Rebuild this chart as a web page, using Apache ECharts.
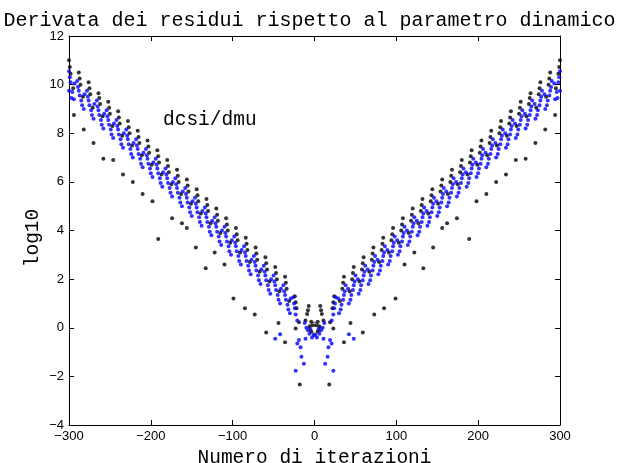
<!DOCTYPE html>
<html><head><meta charset="utf-8">
<script src="https://cdn.jsdelivr.net/npm/echarts@6/dist/echarts.min.js"></script>
<style>html,body{margin:0;padding:0;background:#fff}#c{width:619px;height:463px}</style>
</head><body><div id="c"></div>
<script>
const titleText = "Derivata dei residui rispetto al parametro dinamico";
const xName = "Numero di iterazioni";
const yName = "log10";
const annotation = "dcsi/dmu";
const xTicks = [-300, -200, -100, 0, 100, 200, 300];
const yTicks = [-4, -2, 0, 2, 4, 6, 8, 10, 12];

const blackLeft = [
[-300,11.0],[-299,10.72],[-298,10.45],[-295,9.85],[-294,8.75],
[-288,10.5],[-287,10.25],[-286,10.0],[-283,9.5],[-282,8.15],
[-276,10.1],[-275,9.85],[-274,9.6],[-271,9.05],[-270,7.6],
[-264,9.65],[-263,9.45],[-262,9.2],[-259,8.7],[-258,6.95],
[-252,9.3],[-251,9.05],[-250,8.8],[-247,8.3],[-246,6.9],
[-240,8.9],[-239,8.65],[-238,8.4],[-235,7.9],[-234,6.3],
[-228,8.5],[-227,8.25],[-226,8.0],[-223,7.5],[-222,6.0],
[-216,8.1],[-215,7.85],[-214,7.6],[-211,7.1],[-210,5.5],
[-204,7.7],[-203,7.45],[-202,7.2],[-199,6.7],[-198,5.2],
[-192,7.3],[-191,7.05],[-190,6.8],[-187,6.3],[-191,3.65],
[-180,6.9],[-179,6.65],[-178,6.4],[-175,5.9],[-174,4.5],
[-168,6.5],[-167,6.25],[-166,6.0],[-163,5.5],[-162,4.3],
[-156,6.1],[-155,5.85],[-154,5.6],[-151,5.1],[-156,4.1],
[-144,5.7],[-143,5.45],[-142,5.2],[-139,4.7],[-145,3.3],
[-132,5.3],[-131,5.05],[-130,4.8],[-127,4.3],[-133,2.45],
[-120,4.9],[-119,4.65],[-118,4.4],[-115,3.9],[-122,3.1],
[-108,4.5],[-107,4.25],[-106,4.0],[-103,3.5],[-110,2.6],
[-96,4.1],[-95,3.85],[-94,3.6],[-91,3.1],[-99,1.2],
[-84,3.7],[-83,3.45],[-82,3.2],[-79,2.7],[-85,0.8],
[-72,3.3],[-71,3.05],[-70,2.8],[-67,2.3],[-73,0.55],
[-60,2.9],[-59,2.65],[-58,2.4],[-55,1.9],[-59,-0.2],
[-48,2.5],[-47,2.25],[-46,2.0],[-43,1.5],[-44,0.2],
[-36,2.1],[-35,1.85],[-34,1.6],[-31,1.1],[-36,-0.6],
[-24,1.3],[-23,1.05],[-22,0.8],[-19,0.23],[-23,-0.03],[-18,-2.33],
[-7,0.89],[-8,0.72],[-9,0.57],[-11,0.3],[-6,0.05],[-4,-0.15]
];
const blueLeft = [
[-300,10.55],[-300,9.75],[-299,10.3],[-298,10.1],[-297,9.45],[-296,9.7],[-294,9.4],[-293,10.05],
[-290,10.15],[-289,9.9],[-288,9.75],[-287,9.55],[-285,9.35],[-284,9.15],[-282,9.0],[-281,9.6],
[-278,9.75],[-277,9.5],[-276,9.35],[-275,9.15],[-273,8.95],[-272,8.75],[-270,8.6],[-269,9.2],
[-266,9.35],[-265,9.1],[-264,8.95],[-263,8.75],[-261,8.55],[-260,8.35],[-258,8.2],[-257,8.8],
[-254,8.95],[-253,8.7],[-252,8.55],[-251,8.35],[-249,8.15],[-248,7.95],[-246,7.8],[-245,8.4],
[-242,8.55],[-241,8.3],[-240,8.15],[-239,7.95],[-237,7.75],[-236,7.55],[-234,7.4],[-233,8.0],
[-230,8.15],[-229,7.9],[-228,7.75],[-227,7.55],[-225,7.35],[-224,7.15],[-222,7.0],[-221,7.6],
[-218,7.75],[-217,7.5],[-216,7.35],[-215,7.15],[-213,6.95],[-212,6.75],[-210,6.6],[-209,7.2],
[-206,7.35],[-205,7.1],[-204,6.95],[-203,6.75],[-201,6.55],[-200,6.35],[-198,6.2],[-197,6.8],
[-194,6.95],[-193,6.7],[-192,6.55],[-191,6.35],[-189,6.15],[-188,5.95],[-186,5.8],[-185,6.4],
[-182,6.55],[-181,6.3],[-180,6.15],[-179,5.95],[-177,5.75],[-176,5.55],[-174,5.4],[-173,6.0],
[-170,6.15],[-169,5.9],[-168,5.75],[-167,5.55],[-165,5.35],[-164,5.15],[-162,5.0],[-161,5.6],
[-158,5.75],[-157,5.5],[-156,5.35],[-155,5.15],[-153,4.95],[-152,4.75],[-150,4.6],[-149,5.2],
[-146,5.35],[-145,5.1],[-144,4.95],[-143,4.75],[-141,4.55],[-140,4.35],[-138,4.2],[-137,4.8],
[-134,4.95],[-133,4.7],[-132,4.55],[-131,4.35],[-129,4.15],[-128,3.95],[-126,3.8],[-125,4.4],
[-122,4.55],[-121,4.3],[-120,4.15],[-119,3.95],[-117,3.75],[-116,3.55],[-114,3.4],[-113,4.0],
[-110,4.15],[-109,3.9],[-108,3.75],[-107,3.55],[-105,3.35],[-104,3.15],[-102,3.0],[-101,3.6],
[-98,3.75],[-97,3.5],[-96,3.35],[-95,3.15],[-93,2.95],[-92,2.75],[-90,2.6],[-89,3.2],
[-86,3.35],[-85,3.1],[-84,2.95],[-83,2.75],[-81,2.55],[-80,2.35],[-78,2.2],[-77,2.8],
[-74,2.95],[-73,2.7],[-72,2.55],[-71,2.35],[-69,2.15],[-68,1.95],[-66,1.8],[-65,2.4],
[-62,2.55],[-61,2.3],[-60,2.15],[-59,1.95],[-57,1.75],[-56,1.55],[-54,1.4],[-53,2.0],
[-50,2.15],[-49,1.9],[-48,1.75],[-47,1.55],[-45,1.35],[-44,1.15],[-42,1.0],[-41,1.6],[-48,-0.45],[-42,-0.27],
[-38,1.75],[-37,1.5],[-36,1.35],[-35,1.15],[-33,0.95],[-32,0.75],[-30,0.6],[-29,1.2],
[-26,1.25],[-25,1.0],[-24,0.8],[-23,0.55],[-21,0.3],[-19,-0.5],[-21,-0.65],[-17,-0.8],[-16,-1.19],[-13,-1.48],[-23,-1.77],
[-12,0.2],[-11,-0.45],[-10,0.0],[-8,-0.1],[-6,-0.25],[-3,-0.4],[-5,-0.05]
];
const blackCenter = [[-4,0.25],[4,0.25],[-2,0.1],[2,0.1]];
const blueCenter = [[-1,-0.3],[1,-0.3]];
const originMark = [[0,0]];
const blackRight = [
[7,0.89],[8,0.72],[9,0.57],[11,0.3],[6,0.05],[4,-0.15],
[24,1.3],[23,1.05],[22,0.8],[19,0.23],[23,-0.03],[18,-2.33],
[36,2.1],[35,1.85],[34,1.6],[31,1.1],[36,-0.6],
[48,2.5],[47,2.25],[46,2.0],[43,1.5],[44,0.2],
[60,2.9],[59,2.65],[58,2.4],[55,1.9],[59,-0.2],
[72,3.3],[71,3.05],[70,2.8],[67,2.3],[73,0.55],
[84,3.7],[83,3.45],[82,3.2],[79,2.7],[85,0.8],
[96,4.1],[95,3.85],[94,3.6],[91,3.1],[99,1.2],
[108,4.5],[107,4.25],[106,4.0],[103,3.5],[110,2.6],
[120,4.9],[119,4.65],[118,4.4],[115,3.9],[122,3.1],
[132,5.3],[131,5.05],[130,4.8],[127,4.3],[133,2.45],
[144,5.7],[143,5.45],[142,5.2],[139,4.7],[145,3.3],
[156,6.1],[155,5.85],[154,5.6],[151,5.1],[156,4.1],
[168,6.5],[167,6.25],[166,6.0],[163,5.5],[162,4.3],
[180,6.9],[179,6.65],[178,6.4],[175,5.9],[174,4.5],
[192,7.3],[191,7.05],[190,6.8],[187,6.3],[189,3.65],
[204,7.7],[203,7.45],[202,7.2],[199,6.7],[198,5.2],
[216,8.1],[215,7.85],[214,7.6],[211,7.1],[210,5.5],
[228,8.5],[227,8.25],[226,8.0],[223,7.5],[222,6.0],
[240,8.9],[239,8.65],[238,8.4],[235,7.9],[234,6.3],
[252,9.3],[251,9.05],[250,8.8],[247,8.3],[246,6.9],
[264,9.65],[263,9.45],[262,9.2],[259,8.7],[258,6.95],
[276,10.1],[275,9.85],[274,9.6],[271,9.05],[270,7.6],
[288,10.5],[287,10.25],[286,10.0],[283,9.5],[282,8.15],
[300,11.0],[299,10.72],[298,10.45],[295,9.85],[294,8.75]
];
const blueRight = [
[12,0.2],[11,-0.45],[10,0.0],[8,-0.1],[6,-0.25],[3,-0.4],[5,-0.05],
[26,1.25],[25,1.0],[24,0.8],[23,0.55],[21,0.3],[19,-0.5],[21,-0.65],[17,-0.8],[16,-1.19],[13,-1.48],[23,-1.77],
[38,1.75],[37,1.5],[36,1.35],[35,1.15],[33,0.95],[32,0.75],[30,0.6],[29,1.2],
[50,2.15],[49,1.9],[48,1.75],[47,1.55],[45,1.35],[44,1.15],[42,1.0],[41,1.6],[48,-0.45],[42,-0.27],
[62,2.55],[61,2.3],[60,2.15],[59,1.95],[57,1.75],[56,1.55],[54,1.4],[53,2.0],
[74,2.95],[73,2.7],[72,2.55],[71,2.35],[69,2.15],[68,1.95],[66,1.8],[65,2.4],
[86,3.35],[85,3.1],[84,2.95],[83,2.75],[81,2.55],[80,2.35],[78,2.2],[77,2.8],
[98,3.75],[97,3.5],[96,3.35],[95,3.15],[93,2.95],[92,2.75],[90,2.6],[89,3.2],
[110,4.15],[109,3.9],[108,3.75],[107,3.55],[105,3.35],[104,3.15],[102,3.0],[101,3.6],
[122,4.55],[121,4.3],[120,4.15],[119,3.95],[117,3.75],[116,3.55],[114,3.4],[113,4.0],
[134,4.95],[133,4.7],[132,4.55],[131,4.35],[129,4.15],[128,3.95],[126,3.8],[125,4.4],
[146,5.35],[145,5.1],[144,4.95],[143,4.75],[141,4.55],[140,4.35],[138,4.2],[137,4.8],
[158,5.75],[157,5.5],[156,5.35],[155,5.15],[153,4.95],[152,4.75],[150,4.6],[149,5.2],
[170,6.15],[169,5.9],[168,5.75],[167,5.55],[165,5.35],[164,5.15],[162,5.0],[161,5.6],
[182,6.55],[181,6.3],[180,6.15],[179,5.95],[177,5.75],[176,5.55],[174,5.4],[173,6.0],
[194,6.95],[193,6.7],[192,6.55],[191,6.35],[189,6.15],[188,5.95],[186,5.8],[185,6.4],
[206,7.35],[205,7.1],[204,6.95],[203,6.75],[201,6.55],[200,6.35],[198,6.2],[197,6.8],
[218,7.75],[217,7.5],[216,7.35],[215,7.15],[213,6.95],[212,6.75],[210,6.6],[209,7.2],
[230,8.15],[229,7.9],[228,7.75],[227,7.55],[225,7.35],[224,7.15],[222,7.0],[221,7.6],
[242,8.55],[241,8.3],[240,8.15],[239,7.95],[237,7.75],[236,7.55],[234,7.4],[233,8.0],
[254,8.95],[253,8.7],[252,8.55],[251,8.35],[249,8.15],[248,7.95],[246,7.8],[245,8.4],
[266,9.35],[265,9.1],[264,8.95],[263,8.75],[261,8.55],[260,8.35],[258,8.2],[257,8.8],
[278,9.75],[277,9.5],[276,9.35],[275,9.15],[273,8.95],[272,8.75],[270,8.6],[269,9.2],
[290,10.15],[289,9.9],[288,9.75],[287,9.55],[285,9.35],[284,9.15],[282,9.0],[281,9.6],
[300,10.55],[300,9.75],[299,10.3],[298,10.1],[297,9.45],[296,9.7],[294,9.4],[293,10.05]
];

const mono = "'Liberation Mono','DejaVu Sans Mono',monospace";
const sans = "'Liberation Sans',Arial,sans-serif";
const fmt = v => String(v).replace('-', '\u2212');

const chart = echarts.init(document.getElementById('c'), null, {renderer: 'canvas'});
const axisCommon = {
  type: 'value',
  axisLine: {show: true, onZero: false, lineStyle: {color: '#000', width: 1}},
  axisTick: {show: true, inside: true, length: 5, lineStyle: {color: '#000'}},
  splitLine: {show: false}
};
chart.setOption({
  animation: false,
  backgroundColor: '#fff',
  title: {text: titleText, left: 'center', top: 6,
    textStyle: {fontFamily: mono, fontSize: 20, fontWeight: 'normal', color: '#000'}},
  grid: {left: 69, right: 59, top: 36, bottom: 38, containLabel: false, outerBoundsMode: 'none'},
  xAxis: [
    Object.assign({}, axisCommon, {min: xTicks[0], max: xTicks[xTicks.length-1], interval: 100, position: 'bottom',
      name: xName, nameLocation: 'middle', nameGap: 17,
      nameTextStyle: {fontFamily: mono, fontSize: 19.5, color: '#000'},
      axisLabel: {color: '#000', fontFamily: sans, fontSize: 13, margin: 5, formatter: fmt, showMinLabel: true, showMaxLabel: true}}),
    Object.assign({}, axisCommon, {min: xTicks[0], max: xTicks[xTicks.length-1], interval: 100, position: 'top', axisLabel: {show: false}})
  ],
  yAxis: [
    Object.assign({}, axisCommon, {min: yTicks[0], max: yTicks[yTicks.length-1], interval: 2, position: 'left',
      axisLabel: {color: '#000', fontFamily: sans, fontSize: 13, margin: 5, formatter: fmt, showMinLabel: true, showMaxLabel: true}}),
    Object.assign({}, axisCommon, {min: yTicks[0], max: yTicks[yTicks.length-1], interval: 2, position: 'right', axisLabel: {show: false}})
  ],
  graphic: [
    {type: 'text', left: 163, top: 110,
     style: {text: annotation, font: "19.5px 'Liberation Mono', monospace", fill: '#000'}},
    {type: 'text', x: 33, y: 238, rotation: Math.PI / 2,
     style: {text: yName, font: "19.5px 'Liberation Mono', monospace", fill: '#000', align: 'center', verticalAlign: 'middle'}}
  ],
  series: [
    {type: 'scatter', data: blackLeft.concat(blackCenter, blackRight), symbol: 'circle', symbolSize: 4,
     itemStyle: {color: '#000'}, silent: true},
    {type: 'scatter', data: blueLeft.concat(blueCenter, blueRight), symbol: 'circle', symbolSize: 4,
     itemStyle: {color: '#0000ff'}, silent: true},
    {type: 'scatter', data: originMark, symbol: 'circle', symbolSize: 11,
     itemStyle: {color: 'transparent', borderColor: '#222', borderWidth: 1}, silent: true}
  ]
});
</script></body></html>
